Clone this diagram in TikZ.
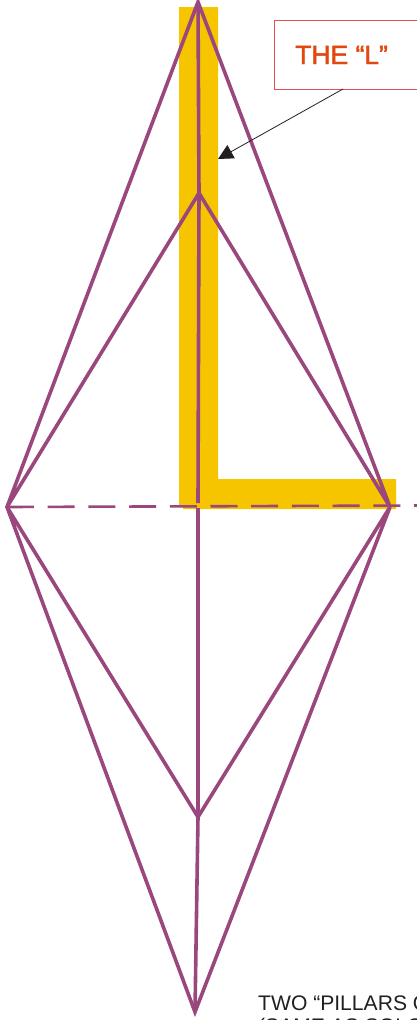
\documentclass[tikz,border=0pt]{standalone}
\usepackage{fontspec}
\setmainfont{Liberation Sans}
\usetikzlibrary{arrows.meta}
\definecolor{plum}{HTML}{99477D}
\definecolor{gold}{HTML}{F6C500}
\definecolor{redline}{HTML}{E2504F}
\definecolor{orangetxt}{HTML}{E2470F}
\definecolor{ink}{HTML}{231F20}
\tikzset{
  edge/.style={draw=plum,line width=3.6pt,line join=miter},
  dashline/.style={draw=plum,line width=2.6pt,dash pattern=on 27pt off 13.7pt},
  callout/.style={draw=redline,line width=1pt,fill=white},
  pointer/.style={draw=ink,line width=0.8pt,-{Triangle[length=15pt,width=15pt,fill=ink]}},
}
\begin{document}
\begin{tikzpicture}[x=1pt,y=-1pt]
\useasboundingbox (0,0) rectangle (417,1020);
\clip (0,0) rectangle (417,1020);
\coordinate (top) at (198,2);
\coordinate (upper) at (199,193);
\coordinate (left) at (7,507);
\coordinate (right) at (390,507);
\coordinate (lower) at (198,817);
\coordinate (bottom) at (195,1012);
\coordinate (upstop) at (198,503);
\coordinate (lowstart) at (198,508);
\coordinate (dashend) at (417,505.5);
\coordinate (pointat) at (218,159);
\fill[gold] (179,7) -- (218,7) -- (218,479) -- (396,479) -- (396,509) -- (183,509) -- (183,506.5) -- (179,506.5) -- cycle;
\draw[edge] (left) -- (top) -- (right) -- (upper) -- (left) -- (lower) -- (right) -- (bottom) -- (left);
\draw[edge] (top) -- (upper) -- (upstop);
\draw[edge] (lowstart) -- (lower) -- (bottom);
\draw[dashline] (left) -- (dashend);
\node[callout,minimum width=160pt,minimum height=69pt,anchor=north west,inner sep=0pt] (box) at (274,20) {};
\node[anchor=base west,inner sep=0pt,text=orangetxt,font=\fontsize{26.5}{26.5}\selectfont] (label) at (295,64) {\special{pdf:literal direct 2 Tr 0.45 w}THE “L”\special{pdf:literal direct 0 Tr 1 w}};
\draw[pointer] (343,89) -- (pointat);
\node[anchor=base west,inner sep=0pt,text=ink,font=\fontsize{21.1}{21.1}\selectfont] (pillars) at (258,1010) {TWO “PILLARS OF};
\node[anchor=base west,inner sep=0pt,text=ink,font=\fontsize{21.1}{21.1}\selectfont] (same) at (258,1033.5) {(SAME AS SOLOMON};
\end{tikzpicture}
\end{document}
